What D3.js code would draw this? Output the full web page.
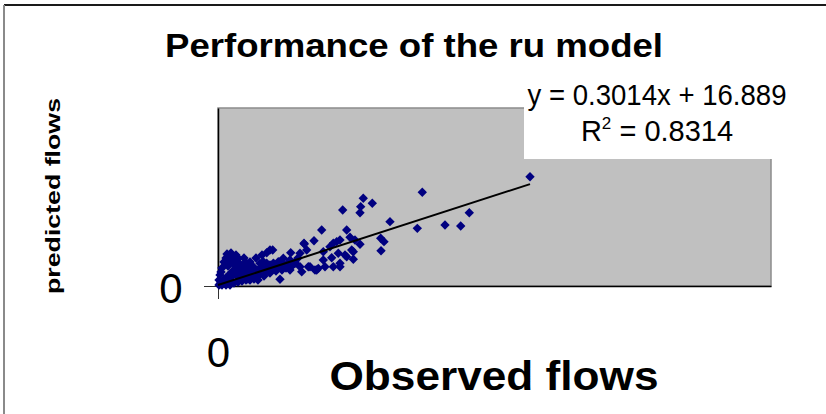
<!DOCTYPE html>
<html>
<head>
<meta charset="utf-8">
<script src="https://cdn.jsdelivr.net/npm/d3@7"></script>
<style>
  body { margin: 0; background: #fff; }
  text { font-family: "Liberation Sans", Arial, sans-serif; }
</style>
</head>
<body>
<div id="chart"></div>
<script>
// observed flows (x) and predicted flows (y)
const observed = [
  5642, 3694, 2627, 2790, 2580, 2255, 2568, 4544, 3110, 3604, 4105, 4389, 1875, 2327,
  2942, 3002, 2948, 1555, 1736, 2387, 2477, 2568, 2085, 2146, 2206, 2025, 2418, 2175,
  1904, 2327, 2447, 2056, 1904, 1604, 1633, 1754, 1814, 2085, 2206, 1935, 1514, 1561,
  940, 881, 989, 1315, 1121, 2297, 2447, 2206, 1664, 1785, 1483, 1392, 1302, 1483,
  1181, 1090, 1000, 940, 881, 819, 759, 638, 519, 367, 338, 277, 217,
  18, 36, 54, 72, 90, 108, 127, 145, 163, 181, 199, 217, 235, 253, 271, 289, 307, 325,
  344, 362, 380, 398, 416, 434, 452, 470, 488, 506, 524, 542, 561, 579, 597, 615, 651,
  687, 723, 759, 796, 832, 868, 904, 940, 976, 1013, 1049, 1085, 1121, 1157, 1193, 1230,
  1266, 1302, 1338, 1392, 1446, 36, 72, 108, 145, 181, 217, 253, 289, 325, 362, 145,
  217, 289, 362, 434, 506, 579, 651, 723, 181, 54, 18, 163, 235, 325, 796, 687, 579, 470
];
const predicted = [
  1842, 1579, 1478, 1394, 1337, 1281, 1235, 1235, 1084, 972, 1028, 1011, 944, 944,
  804, 747, 595, 720, 763, 821, 775, 703, 720, 747, 775, 662, 607, 551,
  578, 494, 450, 477, 438, 607, 325, 270, 298, 325, 325, 325, 241, 708,
  607, 561, 607, 561, 113, 522, 578, 383, 325, 270, 325, 383, 438, 551,
  467, 410, 383, 354, 383, 410, 383, 325, 383, 467, 410, 438, 383,
  17, 34, 51, 17, 67, 101, 51, 135, 84, 169, 118, 202, 152, 236, 185, 270, 219, 303,
  169, 253, 337, 202, 286, 236, 354, 152, 270, 202, 320, 118, 236, 169, 286, 185, 236,
  152, 270, 202, 303, 169, 253, 337, 219, 286, 371, 253, 320, 404, 270, 354, 303,
  388, 270, 337, 404, 472, 185, 303, 404, 472, 506, 438, 506, 371, 472, 404, 17,
  17, 51, 67, 84, 101, 101, 118, 101, 337, 236, 101, 539, 556, 522, 522, 472, 404, 472
];

const slope = 0.3014;
const intercept = 16.889;
const rSquared = 0.8314;
const xTicks = [0];
const yTicks = [0];

const width = 826;
const height = 414;

const svg = d3.select('#chart')
              .append('svg')
              .attr('width', width)
              .attr('height', height);

const xScale = d3.scaleLinear().domain([0, 10000]).range([218, 771]);
const yScale = d3.scaleLinear().domain([0, 3000]).range([286, 108]);

// chart frame (only top and left edges are visible)
svg.append('line').attr('x1', 4).attr('x2', width).attr('y1', 5).attr('y2', 5)
   .attr('stroke', '#1a1a1a').attr('stroke-width', 2);
svg.append('line').attr('x1', 4).attr('x2', 4).attr('y1', 5).attr('y2', height)
   .attr('stroke', '#8a8a8a').attr('stroke-width', 2);

// plot area
svg.append('rect')
   .attr('x', xScale(0)).attr('y', yScale(3000))
   .attr('width', xScale(10000) - xScale(0))
   .attr('height', yScale(0) - yScale(3000))
   .attr('fill', '#c0c0c0')
   .attr('stroke', '#8c8c8c')
   .attr('stroke-width', 1.5);

// white background of the trendline label
svg.append('rect')
   .attr('x', 524).attr('y', 74)
   .attr('width', 290).attr('height', 85)
   .attr('fill', '#fff');

const xAxis = d3.axisBottom(xScale).tickValues(xTicks).tickSize(13).tickSizeOuter(0);
const yAxis = d3.axisLeft(yScale).tickValues(yTicks).tickSize(14).tickSizeOuter(0);

const gx = svg.append('g').attr('transform', `translate(0,${yScale(0)})`).call(xAxis);
const gy = svg.append('g').attr('transform', `translate(${xScale(0)},0)`).call(yAxis);

[gx, gy].forEach(g => {
  g.select('.domain').attr('stroke', '#000').attr('stroke-width', 1.5);
  g.selectAll('.tick line').attr('stroke', '#333');
  g.selectAll('.tick text')
   .attr('font-family', '"Liberation Sans", Arial, sans-serif')
   .attr('font-size', 42)
   .attr('fill', '#000')
   .attr('text-anchor', 'middle');
});
gx.selectAll('.tick text').attr('y', 51);
gy.selectAll('.tick text').attr('x', -47).attr('dy', '0.4em');

// points
const points = observed.map((x, i) => ({ x: x, y: predicted[i] }));
const diamond = d3.symbol(d3.symbolSquare, 44);

svg.append('g')
   .selectAll('path')
   .data(points)
   .join('path')
   .attr('d', diamond)
   .attr('transform', d => `translate(${xScale(d.x)},${yScale(d.y)}) rotate(45)`)
   .attr('fill', '#000080');

// linear trendline across the observed range
const xMax = d3.max(observed);
svg.append('line')
   .attr('x1', xScale(0)).attr('y1', yScale(intercept))
   .attr('x2', xScale(xMax)).attr('y2', yScale(slope * xMax + intercept))
   .attr('stroke', '#000')
   .attr('stroke-width', 2);

// trendline label
svg.append('text')
   .attr('x', 657).attr('y', 105)
   .attr('text-anchor', 'middle')
   .attr('font-size', 29)
   .attr('textLength', 259)
   .attr('lengthAdjust', 'spacingAndGlyphs')
   .text(`y = ${slope}x + ${intercept}`);

const r2 = svg.append('text')
   .attr('x', 657).attr('y', 141)
   .attr('text-anchor', 'middle')
   .attr('font-size', 29);
r2.append('tspan').text('R');
r2.append('tspan').attr('font-size', 17).attr('dy', -12).text('2');
r2.append('tspan').attr('dy', 12).text(` = ${rSquared}`);

// titles
svg.append('text')
   .attr('x', 414).attr('y', 57)
   .attr('text-anchor', 'middle')
   .attr('font-size', 34)
   .attr('font-weight', 'bold')
   .attr('textLength', 498)
   .attr('lengthAdjust', 'spacingAndGlyphs')
   .text('Performance of the ru model');

svg.append('text')
   .attr('x', 494).attr('y', 390)
   .attr('text-anchor', 'middle')
   .attr('font-size', 40)
   .attr('font-weight', 'bold')
   .attr('textLength', 329)
   .attr('lengthAdjust', 'spacingAndGlyphs')
   .text('Observed flows');

svg.append('text')
   .attr('transform', 'translate(60,196) rotate(-90)')
   .attr('text-anchor', 'middle')
   .attr('font-size', 21)
   .attr('font-weight', 'bold')
   .attr('textLength', 196)
   .attr('lengthAdjust', 'spacingAndGlyphs')
   .text('predicted flows');
</script>
</body>
</html>
